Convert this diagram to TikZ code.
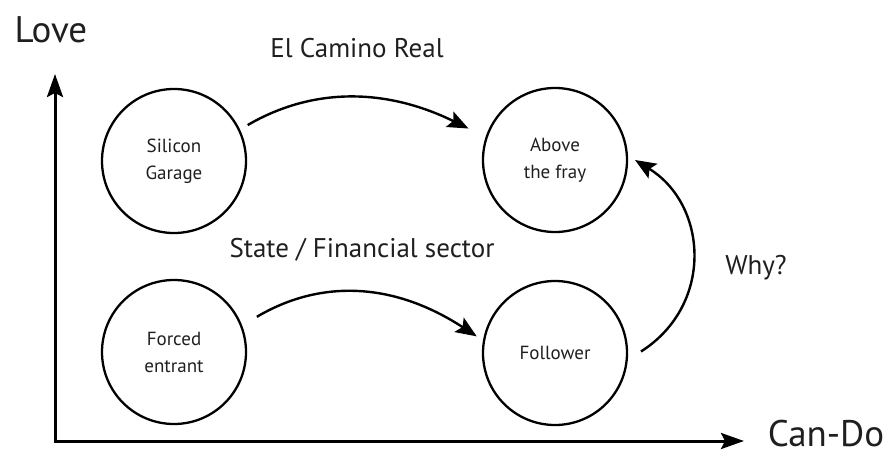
\documentclass[tikz,border=0pt]{standalone}
\usepackage{fontspec}
\setmainfont{PT Sans}
\usetikzlibrary{arrows.meta,calc}
\tikzset{
  state/.style={circle,draw,line width=2.3pt,minimum size=144pt,inner sep=0pt,align=center,font=\fontsize{19}{27}\selectfont,text=black!88},
  conn/.style={line width=2.4pt,-{Stealth[length=21pt,width=17pt,inset=4pt]}},
  axis/.style={line width=3pt,-{Stealth[length=23pt,width=16pt,inset=4pt]}},
  big/.style={font=\fontsize{37}{37}\selectfont,text=black!88,inner sep=0pt,anchor=base},
  mid/.style={font=\fontsize{27}{27}\selectfont,text=black!88}
}
\begin{document}
\begin{tikzpicture}[x=1pt,y=-1pt]
\useasboundingbox (0,0) rectangle (890,457);
% axes
\coordinate (origin) at (55,441);
\coordinate (ytip) at (55,74);
\coordinate (xtip) at (744,441);
\draw[axis] ($(origin)+(0,1.5)$) -- (ytip);
\draw[axis] ($(origin)+(-1.5,0)$) -- (xtip);
\node[big] (love) at (51,43) {Love};
\node[big] (cando) at (826,446) {Can-Do};
% states
\node[state] (sg) at (174,161) {Silicon\\Garage};
\node[state] (af) at (555,160) {Above\\the fray};
\node[state] (fe) at (174,352) {Forced\\entrant};
\node[state] (fo) at (555,353) {Follower};
% connectors
\coordinate (s1) at ($(sg)+(-26:82)$);
\coordinate (e1) at ($(af)+(-160:92)$);
\draw[conn] (s1) .. controls (313,87) and (386,88) .. (e1);
\coordinate (s2) at ($(fe)+(-23:90)$);
\coordinate (e2) at ($(fo)+(-168:80)$);
\draw[conn] (s2) .. controls (319,280) and (392,281) .. (e2);
\coordinate (s3) at ($(fo)+(-1:86)$);
\coordinate (e3) at ($(af)+(0:80)$);
\draw[conn] (s3) .. controls (714,305) and (708,205) .. (e3);
% labels
\node[mid] (l1) at (357,48) {El Camino Real};
\node[mid] (l2) at (362,250) {State / Financial sector};
\node[mid] (l3) at (756,268) {Why?};
\end{tikzpicture}
\end{document}
